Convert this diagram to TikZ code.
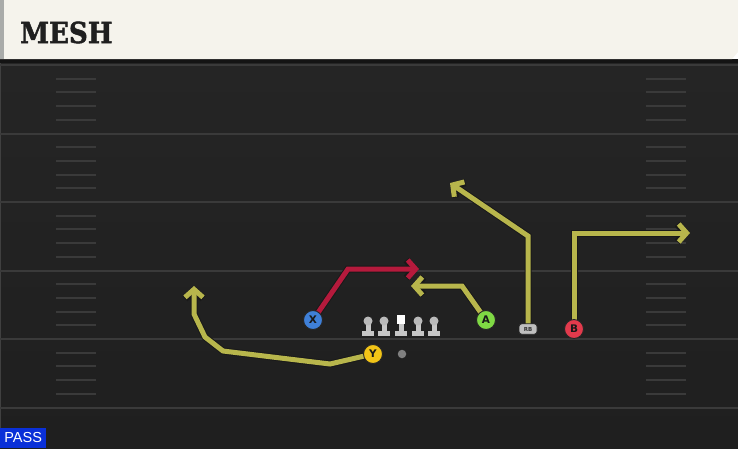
\documentclass[tikz,border=0pt]{standalone}
\usepackage{fontspec}
\usepackage{graphicx}
\usetikzlibrary{arrows.meta}
\newfontfamily\titlefont{DejaVu Serif}[BoldFeatures={FakeBold=1.6}]
\newfontfamily\labelfont{DejaVu Sans}
\newfontfamily\passfont{Liberation Sans}
\definecolor{field}{HTML}{252525}
\definecolor{fieldlow}{HTML}{1F1F1F}
\definecolor{yardline}{HTML}{3A3A3A}
\definecolor{cream}{HTML}{F5F3EC}
\definecolor{creamedge}{HTML}{A9ABA9}
\definecolor{routeyel}{HTML}{B8B64C}
\definecolor{routered}{HTML}{B51A3C}
\definecolor{xblue}{HTML}{3F80D8}
\definecolor{yyellow}{HTML}{F2C417}
\definecolor{agreen}{HTML}{7FD944}
\definecolor{bred}{HTML}{E23A4C}
\definecolor{passblue}{HTML}{0A30D8}
\pgfdeclarelayer{field}
\pgfdeclarelayer{routes}
\pgfsetlayers{field,routes,main}
\newcommand{\route}[2]{\draw[routeedge] #2; \draw[#1] #2;}

\begin{document}
\begin{tikzpicture}[x=1pt, y=-1pt]
  \tikzset{player/.style={circle, draw=black!85, line width=0.9pt, minimum size=19pt,
                          inner sep=0pt, font=\labelfont\bfseries\fontsize{10.5}{10.5}\selectfont, text=black!90},
           rbbox/.style={fill=black!25, draw=black!85, line width=0.6pt, rounded corners=3pt,
                         minimum width=18pt, minimum height=10.5pt, inner sep=0pt,
                         font=\labelfont\bfseries\fontsize{5.5}{5.5}\selectfont, text=black!80},
           olhead/.style={circle, fill=black!27, minimum size=9pt, inner sep=0pt},
           lineman/.style={fill=black!22},
           routeedge/.style={draw=black!90, line width=7pt, -{Straight Barb[length=8pt,width=18pt]}},
           yelroute/.style={draw=routeyel, line width=5pt, -{Straight Barb[length=8pt,width=18pt]}},
           redroute/.style={draw=routered, line width=5pt, -{Straight Barb[length=8pt,width=18pt]}}}
  \useasboundingbox (0,0) rectangle (738,448);
  % field
  \begin{pgfonlayer}{field}
    \shade[top color=field, bottom color=fieldlow] (0,59) rectangle (738,448);
    \draw[black!75!white, line width=1pt] (0.8,63) -- (0.8,428);
    \foreach \yl in {65,133.5,202,270.5,339,407.5}
      \draw[yardline, line width=2pt] (0,\yl) -- (738,\yl);
    \foreach \yl in {65,133.5,202,270.5,339}
      \foreach \k in {1,...,4}{
        \draw[yardline, line width=2pt] (56,{\yl+13.7*\k}) -- (96,{\yl+13.7*\k});
        \draw[yardline, line width=2pt] (646,{\yl+13.7*\k}) -- (686,{\yl+13.7*\k});
      }
    % header
    \fill[black!92] (0,59) rectangle (738,63);
    \fill[cream] (0,0) -- (738,0) -- (738,52) -- (732,59) -- (0,59) -- cycle;
    \fill[creamedge] (0,0) rectangle (4,59);
  \end{pgfonlayer}
  \node[anchor=west, inner sep=0pt, text=black!88] (title) at (20,32.5)
    {\scalebox{0.9}[1]{\titlefont\bfseries\fontsize{29}{29}\selectfont MESH}};
  % players
  \node[player, fill=xblue] (x) at (313,320) {X};
  \node[player, fill=yyellow] (y) at (373,354) {Y};
  \node[player, fill=agreen] (a) at (486,320) {A};
  \node[player, fill=bred] (b) at (574,329) {B};
  \node[rbbox] (rb) at (528,329) {RB};
  \coordinate (xbreak) at (348,269);
  \coordinate (xend) at (419,269);
  \coordinate (abreak) at (462,286);
  \coordinate (aend) at (411,286);
  \coordinate (rbbreak) at (528,236);
  \coordinate (rbend) at (450,183);
  \coordinate (bbreak) at (574,233);
  \coordinate (bend) at (690,233);
  \coordinate (ya) at (330,364);
  \coordinate (yb) at (223,351);
  \coordinate (yc) at (205,337);
  \coordinate (yd) at (194,314);
  \coordinate (yend) at (194,286);
  % routes
  \begin{pgfonlayer}{routes}
    \route{redroute}{(x.center) -- (xbreak) -- (xend)}
    \route{yelroute}{(a.center) -- (abreak) -- (aend)}
    \route{yelroute}{(rb.center) -- (rbbreak) -- (rbend)}
    \route{yelroute}{(b.center) -- (bbreak) -- (bend)}
    \route{yelroute}{(y.center) -- (ya) -- (yb) -- (yc) -- (yd) -- (yend)}
  \end{pgfonlayer}
  % line
  \foreach \xx/\n in {368/lt,384/lg,418/rg,434/rt}{
    \fill[lineman] ({\xx-2.5},322) rectangle ({\xx+2.5},331);
    \fill[lineman] ({\xx-6},330.5) rectangle ({\xx+6},335.5);
    \node[olhead] (\n) at (\xx,321) {};
  }
  \fill[lineman] (398.5,322) rectangle (403.5,331);
  \fill[lineman] (395,330.5) rectangle (407,335.5);
  \node[fill=white, minimum size=8.5pt, inner sep=0pt] (c) at (401,319.5) {};
  \node[circle, fill=black!50, minimum size=8.5pt, inner sep=0pt] (ball) at (402,354) {};
  % tag
  \node[fill=passblue, text=white, anchor=south west, minimum width=46pt, minimum height=20pt,
        inner sep=0pt, font=\passfont\fontsize{14.5}{14.5}\selectfont] (pass) at (0,448) {PASS};
\end{tikzpicture}
\end{document}
